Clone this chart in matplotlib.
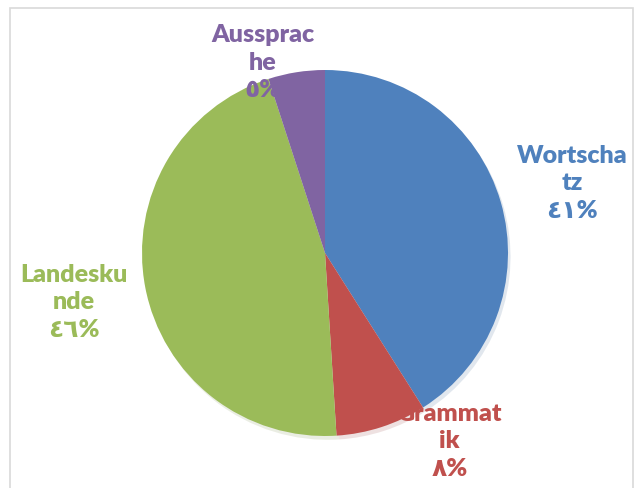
import matplotlib
matplotlib.use("Agg")
import matplotlib.pyplot as plt
from matplotlib.patches import Rectangle

categories = ["Wortschatz", "Grammatik", "Landeskunde", "Aussprache"]
label_lines = ["Wortscha\ntz", "Grammat\nik", "Landesku\nnde", "Aussprac\nhe"]
values = [41, 8, 46, 5]
percent_labels = ["٤١%", "٨%", "٤٦%", "٥%"]
colors = ["#4F81BD", "#C0504D", "#9BBB59", "#8064A2"]

W, H = 643, 488
fig = plt.figure(figsize=(W / 100, H / 100), dpi=100)
fig.patch.set_facecolor("white")

# chart frame
fig.patches.append(Rectangle((10 / W, -0.05), 623 / W, 1.05 - 8 / H,
                             transform=fig.transFigure, fill=False,
                             edgecolor="#D9D9D9", linewidth=1.2))

cx, cy, r = 325, 488 - 253, 183
ax = fig.add_axes([(cx - r) / W, (cy - r) / H, 2 * r / W, 2 * r / H])
wedges, texts = ax.pie(values, colors=colors, startangle=90, counterclock=False,
                       radius=1.0,
                       shadow={"ox": 0.01, "oy": -0.015, "shade": 0.25, "alpha": 0.15},
                       wedgeprops=dict(linewidth=0),
                       labels=[f"{a}\n{b}" for a, b in zip(label_lines, percent_labels)],
                       textprops=dict(fontsize=18, fontweight="heavy",
                                      family=["Lato", "DejaVu Sans"],
                                      ha="center", va="center", linespacing=1.3))
ax.set_xlim(-1, 1)
ax.set_ylim(-1, 1)
ax.set_aspect("equal")
ax.axis("off")

# label positions (data units relative to pie radius), best-fit style
label_pos = [(1.35, 0.38), (0.68, -1.03), (-1.37, -0.27), (-0.34, 1.04)]
for t, c, p in zip(texts, colors, label_pos):
    t.set_position(p)
    t.set_color(c)
    t.set_clip_on(False)

fig.savefig("out.png", dpi=100, facecolor="white")
